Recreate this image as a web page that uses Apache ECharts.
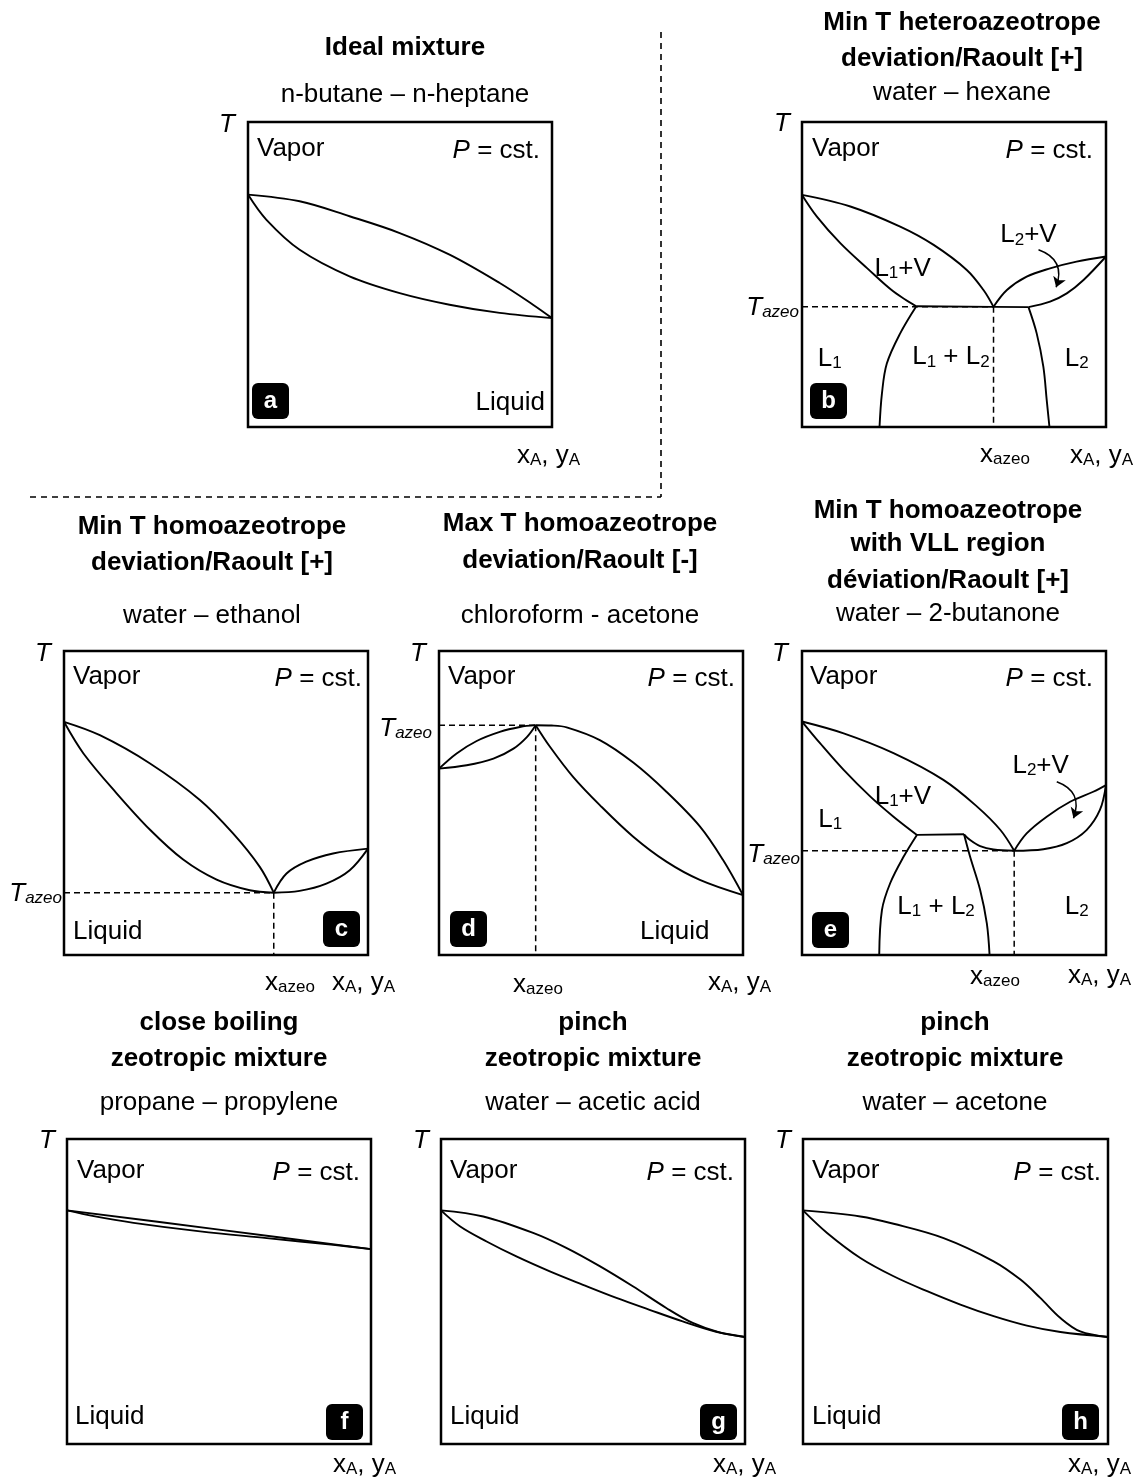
<!DOCTYPE html>
<html><head><meta charset="utf-8">
<script src="https://cdn.jsdelivr.net/npm/echarts@6/dist/echarts.min.js"></script>
<style>html,body{margin:0;padding:0;background:#fff}#c{width:1140px;height:1481px}</style>
</head><body><div id="c"></div>
<script>
// ---------- DATA (normalised x = composition, y = temperature) ----------
// a: ideal mixture
const aVapor  = [[0,0.762],[0.17,0.740],[0.334,0.691],[0.499,0.636],[0.663,0.565],[0.828,0.472],[0.9375,0.401],[1,0.357]];
const aLiquid = [[0,0.762],[0.06,0.680],[0.17,0.581],[0.334,0.494],[0.499,0.439],[0.663,0.401],[0.828,0.374],[1,0.357]];
// b: heteroazeotrope
const bAzeo = [0.630, 0.394];
const bDewLeft   = [[0,0.761],[0.159,0.723],[0.323,0.657],[0.433,0.597],[0.542,0.515],[0.597,0.449],[0.630,0.394]];
const bL1Bubble  = [[0,0.761],[0.049,0.690],[0.126,0.603],[0.214,0.521],[0.301,0.444],[0.376,0.396]];
const bThreePhase= [[0.376,0.396],[0.630,0.394],[0.745,0.393]];
const bDewRight  = [[0.630,0.394],[0.674,0.449],[0.739,0.493],[0.816,0.520],[0.903,0.542],[1,0.559]];
const bL2Bubble  = [[0.745,0.393],[0.816,0.411],[0.871,0.438],[0.926,0.482],[1,0.559]];
const bL1Sol     = [[0.376,0.396],[0.323,0.307],[0.279,0.208],[0.263,0.110],[0.255,0]];
const bL2Sol     = [[0.745,0.393],[0.772,0.307],[0.794,0.197],[0.805,0.088],[0.814,0]];
const bRegionPos = [[0.331,0.526],[0.745,0.635],[0.091,0.230],[0.490,0.235],[0.904,0.230]];
const bRegionTxt = ['{m|L}{s|1}{m|+V}','{m|L}{s|2}{m|+V}','{m|L}{s|1}','{m|L}{s|1}{m| + L}{s|2}','{m|L}{s|2}'];
const bArrow = [[0.778,0.581],[0.836,0.458]];
// c: min T homoazeotrope
const cAzeo = [0.690, 0.205];
const cDewLeft     = [[0,0.767],[0.118,0.723],[0.283,0.630],[0.447,0.510],[0.556,0.400],[0.644,0.290],[0.690,0.205]];
const cBubbleLeft  = [[0,0.767],[0.064,0.663],[0.173,0.532],[0.283,0.412],[0.392,0.314],[0.502,0.248],[0.611,0.213],[0.690,0.205]];
const cDewRight    = [[0.690,0.205],[0.732,0.268],[0.797,0.307],[0.885,0.334],[1,0.350]];
const cBubbleRight = [[0.690,0.205],[0.775,0.211],[0.863,0.235],[0.940,0.279],[1,0.350]];
// d: max T homoazeotrope
const dAzeo = [0.318, 0.756];
const dUpperLeft  = [[0,0.613],[0.058,0.663],[0.124,0.704],[0.200,0.734],[0.266,0.750],[0.318,0.756]];
const dLowerLeft  = [[0,0.613],[0.091,0.624],[0.179,0.646],[0.245,0.679],[0.289,0.717],[0.318,0.756]];
const dUpperRight = [[0.318,0.756],[0.370,0.755],[0.420,0.749],[0.529,0.707],[0.639,0.633],[0.748,0.537],[0.858,0.423],[0.934,0.313],[1,0.197]];
const dLowerRight = [[0.318,0.756],[0.365,0.685],[0.441,0.586],[0.529,0.493],[0.639,0.389],[0.748,0.307],[0.858,0.247],[1,0.197]];
// e: min T homoazeotrope with VLL
const eAzeo = [0.698, 0.343];
const eDewLeft     = [[0,0.768],[0.137,0.729],[0.301,0.664],[0.465,0.576],[0.575,0.489],[0.652,0.412],[0.698,0.343]];
const eL1Bubble    = [[0,0.768],[0.060,0.696],[0.137,0.609],[0.225,0.521],[0.301,0.455],[0.378,0.395]];
const eThreePhase  = [[0.378,0.395],[0.533,0.397]];
const eL2BubbleL   = [[0.533,0.397],[0.553,0.378],[0.586,0.358],[0.630,0.347],[0.698,0.343]];
const eDewRight    = [[0.698,0.343],[0.739,0.400],[0.805,0.455],[0.882,0.504],[0.958,0.537],[1,0.559]];
const eBubbleRight = [[0.698,0.343],[0.794,0.348],[0.871,0.368],[0.936,0.411],[0.980,0.477],[1,0.559]];
const eL1Sol       = [[0.378,0.395],[0.334,0.323],[0.290,0.236],[0.263,0.148],[0.254,0]];
const eL2Sol       = [[0.533,0.397],[0.553,0.323],[0.586,0.214],[0.608,0.104],[0.617,0]];
const eRegionPos = [[0.785,0.630],[0.332,0.526],[0.093,0.450],[0.441,0.164],[0.904,0.164]];
const eRegionTxt = ['{m|L}{s|2}{m|+V}','{m|L}{s|1}{m|+V}','{m|L}{s|1}','{m|L}{s|1}{m| + L}{s|2}','{m|L}{s|2}'];
const eArrow = [[0.838,0.570],[0.893,0.450]];
// f: close boiling
const fVapor  = [[0,0.766],[0.5,0.703],[1,0.639]];
const fLiquid = [[0,0.766],[0.088,0.747],[0.219,0.725],[0.438,0.697],[0.657,0.675],[0.876,0.653],[1,0.639]];
// g: pinch water - acetic acid
const gVapor  = [[0,0.766],[0.139,0.746],[0.303,0.692],[0.412,0.643],[0.522,0.583],[0.631,0.517],[0.741,0.446],[0.828,0.397],[0.916,0.366],[1,0.351]];
const gLiquid = [[0,0.766],[0.062,0.714],[0.150,0.664],[0.248,0.615],[0.358,0.566],[0.467,0.522],[0.577,0.479],[0.686,0.440],[0.795,0.402],[0.905,0.368],[1,0.351]];
// h: pinch water - acetone
const hVapor  = [[0,0.766],[0.188,0.746],[0.297,0.722],[0.461,0.675],[0.625,0.599],[0.713,0.539],[0.778,0.479],[0.844,0.413],[0.909,0.369],[1,0.351]];
const hLiquid = [[0,0.766],[0.079,0.692],[0.188,0.610],[0.297,0.550],[0.407,0.501],[0.516,0.457],[0.625,0.419],[0.734,0.388],[0.844,0.367],[1,0.351]];

// ---------- texts ----------
const titles = {
  a: [['Ideal mixture',true],['n-butane – n-heptane',false]],
  b: [['Min T heteroazeotrope',true],['deviation/Raoult [+]',true],['water – hexane',false]],
  c: [['Min T homoazeotrope',true],['deviation/Raoult [+]',true],['water – ethanol',false]],
  d: [['Max T homoazeotrope',true],['deviation/Raoult [-]',true],['chloroform - acetone',false]],
  e: [['Min T homoazeotrope',true],['with VLL region',true],['déviation/Raoult [+]',true],['water – 2-butanone',false]],
  f: [['close boiling',true],['zeotropic mixture',true],['propane – propylene',false]],
  g: [['pinch',true],['zeotropic mixture',true],['water – acetic acid',false]],
  h: [['pinch',true],['zeotropic mixture',true],['water – acetone',false]]
};

// ---------- layout ----------
const FONT = '"Liberation Sans", Arial, Helvetica, sans-serif';
const order = ['a','b','c','d','e','f','g','h'];
const boxes = {a:[248,122,304,305], b:[802,122,304,305], c:[64,651,304,304], d:[439,651,304,304],
               e:[802,651,304,304], f:[67,1139,304,305], g:[441,1139,304,305], h:[803,1139,305,305]};
const titleLayout = {
  a:{cx:405, ys:[48,95]}, b:{cx:962, ys:[23,59,93]}, c:{cx:212, ys:[527,563,616]},
  d:{cx:580, ys:[524,561,616]}, e:{cx:948, ys:[511,544,581,614]},
  f:{cx:219, ys:[1023,1059,1103]}, g:{cx:593, ys:[1023,1059,1103]}, h:{cx:955, ys:[1023,1059,1103]}
};
const inner = {
  a:{T:[227,125], vap:[257,149], p:[540,149], liq:[545,403,'right'], badge:[252,383], xa:[517,454]},
  b:{T:[782,124], vap:[812,149], p:[1093,149], badge:[810,383], xa:[1070,454], tz:[799,306], xz:[980,453]},
  c:{T:[43,654], vap:[73,677], p:[362,677], liq:[73,932,'left'], badge:[323,911], xa:[332,981], tz:[62,892], xz:[265,981]},
  d:{T:[418,654], vap:[448,677], p:[735,677], liq:[640,932,'left'], badge:[450,911], xa:[708,981], tz:[432,727], xz:[513,983]},
  e:{T:[780,654], vap:[810,677], p:[1093,677], badge:[812,912], xa:[1068,974], tz:[800,853], xz:[970,975]},
  f:{T:[47,1141], vap:[77,1171], p:[360,1171], liq:[75,1417,'left'], badge:[326,1404], xa:[333,1463]},
  g:{T:[421,1141], vap:[450,1171], p:[734,1171], liq:[450,1417,'left'], badge:[700,1404], xa:[713,1463]},
  h:{T:[783,1141], vap:[812,1171], p:[1101,1171], liq:[812,1417,'left'], badge:[1062,1404], xa:[1068,1463]}
};

function tok(size, italic, lh){
  return {fontSize:size, fontFamily:FONT, fontStyle: italic?'italic':'normal', color:'#000', fill:'#000', lineHeight:lh, verticalAlign:'bottom', textBorderWidth:0};
}
const RICH = { m:tok(26,false,30), i:tok(26,true,30), s:tok(17,false,18), si:tok(17,true,18), a:tok(17,false,23) };

function txt(x, y, text, o){
  o = o || {};
  const al = o.align || 'left';
  return {type:'text', x:x, y:y, silent:true, z:10,
    style:{text:text, fill:'#000', font:(o.italic?'italic ':'')+(o.bold?'bold ':'')+(o.size||26)+'px '+FONT,
      textAlign:al, align:al, textVerticalAlign:'middle', verticalAlign:'middle', rich:RICH}};
}

const grids=[], xAxes=[], yAxes=[], series=[], graphics=[];
order.forEach((k,i)=>{
  const b = boxes[k];
  grids.push({left:b[0], top:b[1], width:b[2], height:b[3], show:true, borderColor:'#000', borderWidth:2.5, backgroundColor:'transparent'});
  xAxes.push({type:'value', gridIndex:i, min:0, max:1, show:false});
  yAxes.push({type:'value', gridIndex:i, min:0, max:1, show:false});
});
const gi = k => order.indexOf(k);
function curve(k, data, smooth){
  series.push({type:'line', xAxisIndex:gi(k), yAxisIndex:gi(k), data:data, smooth: smooth===undefined?0.35:smooth,
    symbol:'none', clip:false, silent:true, lineStyle:{color:'#000', width:1.9}, z:3});
}
function dashed(k, data){
  series.push({type:'line', xAxisIndex:gi(k), yAxisIndex:gi(k), data:data, smooth:false,
    symbol:'none', clip:false, silent:true, lineStyle:{color:'#000', width:1.5, type:[6,4]}, z:2});
}
function azeoGuides(k, az){
  dashed(k, [[0,az[1]],[az[0],az[1]]]);
  dashed(k, [[az[0],az[1]],[az[0],0]]);
}
function regions(k, pos, txts){
  series.push({type:'scatter', xAxisIndex:gi(k), yAxisIndex:gi(k), symbolSize:0, silent:true, z:5,
    itemStyle:{color:'#000'},
    data: pos.map((p,j)=>({value:p, name:txts[j]})),
    label:{show:true, position:'inside', color:'#000', fontSize:26, fontFamily:FONT,
      textBorderWidth:0, textBorderColor:'transparent', opacity:1, formatter:p=>p.name, rich:RICH}});
}
function arrow(k, pts){
  series.push({type:'lines', coordinateSystem:'cartesian2d', xAxisIndex:gi(k), yAxisIndex:gi(k), silent:true, z:6,
    symbol:['none','arrow'], symbolSize:10,
    lineStyle:{color:'#000', width:1.5, curveness:0.5, opacity:1},
    data:[{coords:pts}]});
}

// a
curve('a', aVapor); curve('a', aLiquid);
// b
azeoGuides('b', bAzeo);
curve('b', bDewLeft); curve('b', bL1Bubble); curve('b', bThreePhase, false);
curve('b', bDewRight); curve('b', bL2Bubble); curve('b', bL1Sol); curve('b', bL2Sol);
regions('b', bRegionPos, bRegionTxt); arrow('b', bArrow);
// c
azeoGuides('c', cAzeo);
curve('c', cDewLeft); curve('c', cBubbleLeft); curve('c', cDewRight); curve('c', cBubbleRight);
// d
azeoGuides('d', dAzeo);
curve('d', dUpperLeft); curve('d', dLowerLeft); curve('d', dUpperRight); curve('d', dLowerRight);
// e
azeoGuides('e', eAzeo);
curve('e', eDewLeft); curve('e', eL1Bubble); curve('e', eThreePhase, false); curve('e', eL2BubbleL);
curve('e', eDewRight); curve('e', eBubbleRight); curve('e', eL1Sol); curve('e', eL2Sol);
regions('e', eRegionPos, eRegionTxt); arrow('e', eArrow);
// f, g, h
curve('f', fVapor); curve('f', fLiquid);
curve('g', gVapor); curve('g', gLiquid);
curve('h', hVapor); curve('h', hLiquid);

// ---------- annotations ----------
order.forEach(k=>{
  const tl = titleLayout[k];
  titles[k].forEach((t,j)=> graphics.push(txt(tl.cx, tl.ys[j], t[0], {bold:t[1], align:'center'})));
  const n = inner[k];
  graphics.push(txt(n.T[0], n.T[1], 'T', {italic:true, align:'center'}));
  graphics.push(txt(n.vap[0], n.vap[1], 'Vapor'));
  graphics.push(txt(n.p[0], n.p[1], '{i|P}{m| = cst.}', {align:'right'}));
  if (n.liq) graphics.push(txt(n.liq[0], n.liq[1], 'Liquid', {align:n.liq[2]}));
  graphics.push(txt(n.xa[0], n.xa[1], '{m|x}{a|A}{m|, y}{a|A}'));
  if (n.tz) graphics.push(txt(n.tz[0], n.tz[1], '{i|T}{si|azeo}', {align:'right'}));
  if (n.xz) graphics.push(txt(n.xz[0], n.xz[1], '{m|x}{s|azeo}'));
  graphics.push({type:'group', x:n.badge[0], y:n.badge[1], z:10, silent:true, children:[
    {type:'rect', shape:{x:0,y:0,width:37,height:36,r:6}, style:{fill:'#000'}},
    {type:'text', x:18.5, y:18, style:{text:k, fill:'#fff', font:'bold 24px '+FONT, textAlign:'center', align:'center', textVerticalAlign:'middle', verticalAlign:'middle'}}
  ]});
});
graphics.push({type:'line', silent:true, shape:{x1:661,y1:32,x2:661,y2:497}, style:{stroke:'#000', lineWidth:1.6, lineDash:[6,5]}});
graphics.push({type:'line', silent:true, shape:{x1:30,y1:497,x2:661,y2:497}, style:{stroke:'#000', lineWidth:1.6, lineDash:[6,5]}});

const chart = echarts.init(document.getElementById('c'), null, {renderer:'canvas'});
chart.setOption({
  animation:false, backgroundColor:'#fff',
  grid:grids, xAxis:xAxes, yAxis:yAxes, series:series, graphic:graphics
});
</script></body></html>
